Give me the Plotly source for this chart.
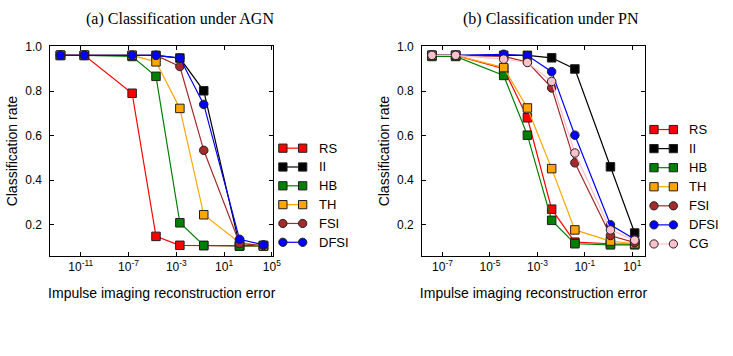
import plotly.graph_objects as go

W, H = 733, 356

# ---------------- data ----------------
series_names_a = ["RS", "II", "HB", "TH", "FSI", "DFSI"]
x_a = [2e-13, 2e-11, 2e-7, 2e-5, 2e-3, 0.2, 200, 2e4]
rs_a = [0.96, 0.96, 0.79, 0.148, 0.108, 0.107, 0.105, 0.105]
ii_a = [0.96, 0.96, 0.96, 0.96, 0.948, 0.801, 0.106, 0.108]
hb_a = [0.96, 0.96, 0.955, 0.866, 0.209, 0.107, 0.105, 0.105]
th_a = [0.96, 0.96, 0.96, 0.931, 0.722, 0.245, 0.12, 0.105]
fsi_a = [0.96, 0.96, 0.96, 0.96, 0.910, 0.534, 0.116, 0.107]
dfsi_a = [0.96, 0.96, 0.96, 0.96, 0.948, 0.740, 0.135, 0.110]

series_names_b = ["RS", "II", "HB", "TH", "FSI", "DFSI", "CG"]
x_b = [3.6e-8, 3.6e-7, 3.8e-5, 3.8e-4, 4.0e-3, 3.8e-2, 1.2, 12.6]
rs_b = [0.96, 0.96, 0.90, 0.68, 0.27, 0.122, 0.115, 0.113]
ii_b = [0.96, 0.96, 0.96, 0.96, 0.949, 0.899, 0.46, 0.163]
hb_b = [0.955, 0.955, 0.87, 0.602, 0.22, 0.115, 0.110, 0.110]
th_b = [0.96, 0.96, 0.905, 0.724, 0.452, 0.177, 0.127, 0.115]
fsi_b = [0.96, 0.96, 0.955, 0.93, 0.814, 0.478, 0.152, 0.120]
dfsi_b = [0.96, 0.96, 0.965, 0.959, 0.887, 0.602, 0.200, 0.135]
cg_b = [0.96, 0.96, 0.943, 0.928, 0.843, 0.522, 0.177, 0.131]

titles = ["(a) Classification under AGN", "(b) Classification under PN"]
y_ticks = [0.2, 0.4, 0.6, 0.8, 1.0]
x_ticks_a = [1e-11, 1e-7, 1e-3, 1e1, 1e5]
x_ticks_b = [1e-7, 1e-5, 1e-3, 1e-1, 1e1]

# ---------------- styles ----------------
style = {
    "RS": ("#ff0000", "square"),
    "II": ("#000000", "square"),
    "HB": ("#008000", "square"),
    "TH": ("#ffa500", "square"),
    "FSI": ("#a52a2a", "circle"),
    "DFSI": ("#0000ff", "circle"),
    "CG": ("#ffc0cb", "circle"),
}

SANS = "Liberation Sans, Arial, sans-serif"
SERIF = "Liberation Serif, Times New Roman, serif"

fig = go.Figure()

def add_series(xs, ys, name, xa, ya):
    col, sym = style[name]
    fig.add_trace(go.Scatter(
        x=xs, y=ys, mode="lines+markers", name=name, showlegend=False,
        xaxis=xa, yaxis=ya,
        line=dict(color=col, width=1.2),
        marker=dict(symbol=sym, size=8.5, color=col,
                    line=dict(color="#202020", width=1)),
    ))

for n, ys in zip(series_names_a, [rs_a, ii_a, hb_a, th_a, fsi_a, dfsi_a]):
    add_series(x_a, ys, n, "x", "y")
for n, ys in zip(series_names_b, [rs_b, ii_b, hb_b, th_b, fsi_b, dfsi_b, cg_b]):
    add_series(x_b, ys, n, "x2", "y2")

def sup_label(v):
    import math
    e = int(round(math.log10(v)))
    return "10<sup>%d</sup>" % e

ydom = [1 - 254 / H, 1 - 40 / H]
common_x = dict(
    type="log", showgrid=False, zeroline=False, showline=True, linecolor="black",
    linewidth=1, mirror="ticks", ticks="inside", ticklen=4, tickcolor="black",
    ticklabelstandoff=0,
    tickfont=dict(family=SANS, size=12, color="black"),
    title=dict(text="Impulse imaging reconstruction error",
               font=dict(family=SANS, size=14, color="black"), standoff=14),
)
common_y = dict(
    range=[0.06, 1.001], showgrid=False, zeroline=False, showline=True,
    linecolor="black", linewidth=1, mirror="ticks", ticks="inside", ticklen=4,
    tickcolor="black", tickvals=y_ticks, ticktext=["%.1f" % v for v in y_ticks],
    ticklabelstandoff=5,
    tickfont=dict(family=SANS, size=12, color="black"),
    title=dict(text="Classification rate",
               font=dict(family=SANS, size=14, color="black"), standoff=4),
)

fig.update_layout(
    width=W, height=H, margin=dict(l=0, r=0, t=0, b=0),
    paper_bgcolor="white", plot_bgcolor="white", showlegend=False,
    xaxis=dict(domain=[51 / W, 276 / W], range=[-13.54, 5.1],
               tickvals=x_ticks_a, ticktext=[sup_label(v) for v in x_ticks_a],
               anchor="y", **common_x),
    yaxis=dict(domain=ydom, anchor="x", **common_y),
    xaxis2=dict(domain=[426.7 / W, 652 / W], range=[-7.86, 1.53],
                tickvals=x_ticks_b, ticktext=[sup_label(v) for v in x_ticks_b],
                anchor="y2", **common_x),
    yaxis2=dict(domain=ydom, anchor="x2", **common_y),
)

# titles
for t, cx in zip(titles, [182, 557]):
    fig.add_annotation(text=t, xref="paper", yref="paper", x=cx / W, y=1 - 12 / H,
                       xanchor="center", yanchor="middle", showarrow=False,
                       font=dict(family=SERIF, size=16, color="black"))

# custom legends (line with a marker at each end)
def px_x(p):
    return p / W

def px_y(p):
    return 1 - p / H

def add_legend(names, x_m1, x_m2, x_text, y0, dy):
    half = 4.2
    for i, n in enumerate(names):
        col, sym = style[n]
        yc = y0 + i * dy
        fig.add_shape(type="line", xref="paper", yref="paper",
                      x0=px_x(x_m1), x1=px_x(x_m2), y0=px_y(yc), y1=px_y(yc),
                      line=dict(color=col, width=1.2))
        for xm in (x_m1, x_m2):
            fig.add_shape(type="rect" if sym == "square" else "circle",
                          xref="paper", yref="paper",
                          x0=px_x(xm - half), x1=px_x(xm + half),
                          y0=px_y(yc + half), y1=px_y(yc - half),
                          fillcolor=col, line=dict(color="#202020", width=1))
        fig.add_annotation(text=n, xref="paper", yref="paper", x=px_x(x_text),
                           y=px_y(yc), xanchor="left", yanchor="middle",
                           showarrow=False,
                           font=dict(family=SANS, size=13, color="black"))

add_legend(series_names_a, 286, 306, 320, 144, 19.2)
add_legend(series_names_b, 661.2, 680.8, 694.5, 125, 19.45)

fig.write_html("out.html")
